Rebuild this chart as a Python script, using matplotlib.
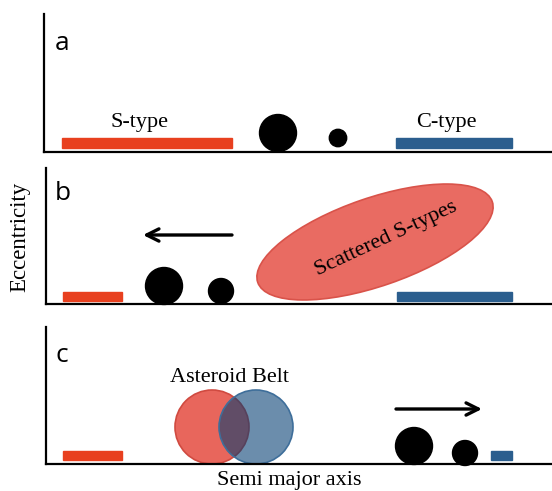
import matplotlib.pyplot as plt
from matplotlib.patches import Circle, Ellipse, Rectangle

W, H = 552, 491
red = '#E8401F'
blue = '#2B5E8E'

# panel frames in pixels: left spine x, top, bottom
panels = {'a': (44, 14, 152), 'b': (46, 168, 304), 'c': (46, 327, 464)}
panel_letter_pos = {'a': (62, 43), 'b': (63, 194), 'c': (62, 356)}

# bars: (panel, x_start, x_end, y_top, y_bottom, colour)
bars = [
    ('a', 62, 232, 138, 148, red),
    ('a', 396, 512, 138, 148, blue),
    ('b', 63, 122, 292, 301, red),
    ('b', 397, 512, 292, 301, blue),
    ('c', 63, 122, 451, 460, red),
    ('c', 491, 512, 451, 460, blue),
]

# black bodies: (panel, x, y, radius)
bodies = [
    ('a', 278, 133, 18.5), ('a', 338, 138, 8.7),
    ('b', 164, 286, 18.5), ('b', 221, 291, 12.5),
    ('c', 414, 446, 18.5), ('c', 465, 453, 12.5),
]

# arrows: (panel, x_from, x_to, y)
arrows = [('b', 232, 143, 235), ('c', 396, 482, 409)]

# labels: (panel, text, x, y)
labels = [('a', 'S-type', 140, 122), ('a', 'C-type', 446, 122),
          ('c', 'Asteroid Belt', 230, 378)]

fig = plt.figure(figsize=(W / 100, H / 100), dpi=100)
axes = {}
for k, (x0, top, bot) in panels.items():
    ax = fig.add_axes([x0 / W, 1 - bot / H, (W - x0) / W, (bot - top) / H])
    ax.set_xlim(x0, W)
    ax.set_ylim(bot, top)
    ax.set_xticks([])
    ax.set_yticks([])
    ax.spines['top'].set_visible(False)
    ax.spines['right'].set_visible(False)
    ax.spines['left'].set_linewidth(1.6)
    ax.spines['bottom'].set_linewidth(1.6)
    ax.patch.set_alpha(0)
    lx, ly = panel_letter_pos[k]
    ax.text(lx, ly, k, fontsize=19, family='Open Sans', ha='center', va='center')
    axes[k] = ax

for p, xa, xb, yt, yb, c in bars:
    axes[p].add_patch(Rectangle((xa, yt), xb - xa, yb - yt, color=c, clip_on=False))

for p, x, y, r in bodies:
    axes[p].add_patch(Circle((x, y), r, color='black', clip_on=False, zorder=3))

for p, xa, xb, y in arrows:
    axes[p].annotate('', xy=(xb, y), xytext=(xa, y),
                     arrowprops=dict(arrowstyle='->', lw=2.4, color='black',
                                     mutation_scale=22, shrinkA=0, shrinkB=0))

for p, t, x, y in labels:
    axes[p].text(x, y, t, fontsize=16, family='Liberation Serif', ha='center', va='center')

# scattered S-types ellipse
axes['b'].add_patch(Ellipse((375, 242), 248, 88, angle=-19, facecolor='#E96B62',
                            edgecolor='#D9534A', lw=1.2, clip_on=False))
axes['b'].text(386, 239, 'Scattered S-types', fontsize=16, family='Liberation Serif',
               ha='center', va='center', rotation=25)

# asteroid belt venn
axes['c'].add_patch(Circle((212, 427), 37, facecolor='#E8665C', edgecolor='#D04A40',
                           lw=1.2, clip_on=False))
axes['c'].add_patch(Circle((256, 427), 37, facecolor=(0, 0.23, 0.44, 0.58),
                           edgecolor='#3E6E9A', lw=1.2, clip_on=False))

fig.text(20 / W, 1 - 237 / H, 'Eccentricity', fontsize=16.5, family='Liberation Serif',
         rotation=90, ha='center', va='center')
fig.text(289 / W, 1 - 481 / H, 'Semi major axis', fontsize=16, family='Liberation Serif',
         ha='center', va='center')

fig.savefig('out.png', dpi=100)
